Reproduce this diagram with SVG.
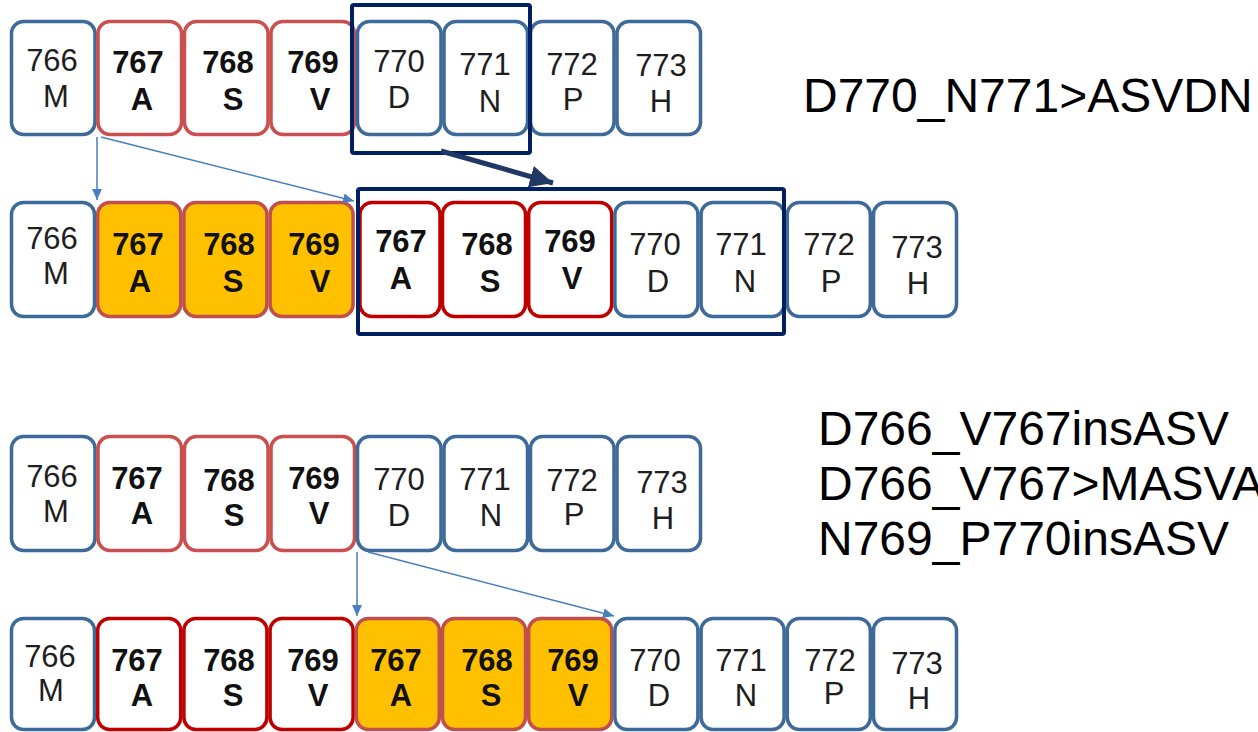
<svg xmlns="http://www.w3.org/2000/svg" width="1258" height="732" viewBox="0 0 1258 732">
<style>
.b{fill:#fff;stroke:#3E6A9A;stroke-width:3.5}
.r{fill:#fff;stroke:#C9504F;stroke-width:3.5}
.d{fill:#fff;stroke:#C00000;stroke-width:3.5}
.o{fill:#FFC000;stroke:#C0504D;stroke-width:3.5}
.t{font-family:"Liberation Sans",Arial,sans-serif;font-size:31px;fill:#1e1e1e;text-anchor:middle}
.tb{font-family:"Liberation Sans",Arial,sans-serif;font-size:31px;font-weight:bold;fill:#111;text-anchor:middle}
.lbl{font-family:"Liberation Sans",Arial,sans-serif;font-size:48px;fill:#000}
.nv{fill:none;stroke:#002060;stroke-width:4}
.ca{fill:none;stroke:#4A7EBF;stroke-width:1.5}
.cn{fill:none;stroke:#203864;stroke-width:5}
</style>
<defs>
<marker id="ab" markerUnits="userSpaceOnUse" markerWidth="12" markerHeight="10" refX="11" refY="5" orient="auto"><path d="M0,0 L11,5 L0,10 z" fill="#4A7EBF"/></marker>
<marker id="an" markerUnits="userSpaceOnUse" markerWidth="24" markerHeight="22" refX="23" refY="11" orient="auto"><path d="M0,0 L23,11 L0,22 z" fill="#203864"/></marker>
</defs>

<!-- Row 1 -->
<g id="r1-766"><rect class="b" x="11.5" y="21.5" width="83.5" height="113" rx="12"/><text class="t" x="52" y="71">766</text><text class="t" x="56" y="107">M</text></g>
<g id="r1-767"><rect class="r" x="98" y="21.5" width="83.5" height="113" rx="12"/><text class="tb" x="138" y="73">767</text><text class="tb" x="142" y="110">A</text></g>
<g id="r1-768"><rect class="r" x="184.5" y="21.5" width="83.5" height="113" rx="12"/><text class="tb" x="228" y="73">768</text><text class="tb" x="233" y="110">S</text></g>
<g id="r1-769"><rect class="r" x="271" y="21.5" width="83.5" height="113" rx="12"/><text class="tb" x="313" y="73">769</text><text class="tb" x="320" y="110">V</text></g>
<g id="r1-770"><rect class="b" x="357.5" y="21.5" width="83.5" height="113" rx="12"/><text class="t" x="399" y="72">770</text><text class="t" x="399" y="108">D</text></g>
<g id="r1-771"><rect class="b" x="444" y="21.5" width="83.5" height="113" rx="12"/><text class="t" x="485" y="75">771</text><text class="t" x="490" y="112">N</text></g>
<g id="r1-772"><rect class="b" x="530.5" y="21.5" width="83.5" height="113" rx="12"/><text class="t" x="572" y="75">772</text><text class="t" x="573" y="110">P</text></g>
<g id="r1-773"><rect class="b" x="617" y="21.5" width="83.5" height="113" rx="12"/><text class="t" x="661" y="76">773</text><text class="t" x="661" y="112">H</text></g>
<g id="r1-frame"><rect class="nv" x="352" y="5" width="178" height="148" rx="2"/></g>

<!-- Row 2 -->
<g id="r2-766"><rect class="b" x="11.5" y="202.5" width="83" height="114" rx="12"/><text class="t" x="52" y="249">766</text><text class="t" x="56" y="284">M</text></g>
<g id="r2-767"><rect class="o" x="97.7" y="202.5" width="83" height="114" rx="12"/><text class="tb" x="138" y="255">767</text><text class="tb" x="140" y="292">A</text></g>
<g id="r2-768"><rect class="o" x="183.9" y="202.5" width="83" height="114" rx="12"/><text class="tb" x="229" y="255">768</text><text class="tb" x="233" y="292">S</text></g>
<g id="r2-769"><rect class="o" x="270.1" y="202.5" width="83" height="114" rx="12"/><text class="tb" x="314" y="255">769</text><text class="tb" x="320" y="292">V</text></g>
<g id="r2-767b"><rect class="d" x="360" y="202.5" width="80" height="114" rx="12"/><text class="tb" x="401" y="252">767</text><text class="tb" x="401" y="289">A</text></g>
<g id="r2-768b"><rect class="d" x="442.5" y="202.5" width="83" height="114" rx="12"/><text class="tb" x="487" y="255">768</text><text class="tb" x="490" y="292">S</text></g>
<g id="r2-769b"><rect class="d" x="528.7" y="202.5" width="83" height="114" rx="12"/><text class="tb" x="570" y="252">769</text><text class="tb" x="572" y="289">V</text></g>
<g id="r2-770"><rect class="b" x="614.9" y="202.5" width="83" height="114" rx="12"/><text class="t" x="655" y="255">770</text><text class="t" x="658" y="292">D</text></g>
<g id="r2-771"><rect class="b" x="701.1" y="202.5" width="83" height="114" rx="12"/><text class="t" x="741" y="255">771</text><text class="t" x="745" y="292">N</text></g>
<g id="r2-772"><rect class="b" x="787.3" y="202.5" width="83" height="114" rx="12"/><text class="t" x="829" y="255">772</text><text class="t" x="831" y="292">P</text></g>
<g id="r2-773"><rect class="b" x="873.5" y="202.5" width="83" height="114" rx="12"/><text class="t" x="917" y="258">773</text><text class="t" x="918" y="294">H</text></g>
<g id="r2-frame"><rect class="nv" x="358" y="189" width="426" height="145" rx="2"/></g>

<!-- Row 3 -->
<g id="r3-766"><rect class="b" x="11.5" y="436.5" width="83.5" height="114" rx="12"/><text class="t" x="52" y="487">766</text><text class="t" x="56" y="522">M</text></g>
<g id="r3-767"><rect class="r" x="98" y="436.5" width="83.5" height="114" rx="12"/><text class="tb" x="137" y="489">767</text><text class="tb" x="142" y="524">A</text></g>
<g id="r3-768"><rect class="r" x="184.5" y="436.5" width="83.5" height="114" rx="12"/><text class="tb" x="229" y="491">768</text><text class="tb" x="234" y="526">S</text></g>
<g id="r3-769"><rect class="r" x="271" y="436.5" width="83.5" height="114" rx="12"/><text class="tb" x="314" y="489">769</text><text class="tb" x="319" y="524">V</text></g>
<g id="r3-770"><rect class="b" x="357.5" y="436.5" width="83.5" height="114" rx="12"/><text class="t" x="399" y="490">770</text><text class="t" x="399" y="526">D</text></g>
<g id="r3-771"><rect class="b" x="444" y="436.5" width="83.5" height="114" rx="12"/><text class="t" x="485" y="490">771</text><text class="t" x="491" y="526">N</text></g>
<g id="r3-772"><rect class="b" x="530.5" y="436.5" width="83.5" height="114" rx="12"/><text class="t" x="572" y="491">772</text><text class="t" x="574" y="525">P</text></g>
<g id="r3-773"><rect class="b" x="617" y="436.5" width="83.5" height="114" rx="12"/><text class="t" x="662" y="493">773</text><text class="t" x="663" y="529">H</text></g>

<!-- Row 4 -->
<g id="r4-766"><rect class="b" x="11.5" y="618.5" width="83" height="111" rx="12"/><text class="t" x="50" y="667">766</text><text class="t" x="51" y="701">M</text></g>
<g id="r4-767"><rect class="d" x="97.7" y="618.5" width="83" height="111" rx="12"/><text class="tb" x="137" y="671">767</text><text class="tb" x="142" y="706">A</text></g>
<g id="r4-768"><rect class="d" x="183.9" y="618.5" width="83" height="111" rx="12"/><text class="tb" x="229" y="671">768</text><text class="tb" x="233" y="706">S</text></g>
<g id="r4-769"><rect class="d" x="270.1" y="618.5" width="83" height="111" rx="12"/><text class="tb" x="313" y="671">769</text><text class="tb" x="318" y="706">V</text></g>
<g id="r4-767b"><rect class="o" x="356.3" y="618.5" width="83" height="111" rx="12"/><text class="tb" x="396" y="671">767</text><text class="tb" x="401" y="706">A</text></g>
<g id="r4-768b"><rect class="o" x="442.5" y="618.5" width="83" height="111" rx="12"/><text class="tb" x="487" y="671">768</text><text class="tb" x="491" y="706">S</text></g>
<g id="r4-769b"><rect class="o" x="528.7" y="618.5" width="83" height="111" rx="12"/><text class="tb" x="573" y="671">769</text><text class="tb" x="578" y="706">V</text></g>
<g id="r4-770"><rect class="b" x="614.9" y="618.5" width="83" height="111" rx="12"/><text class="t" x="655" y="671">770</text><text class="t" x="659" y="706">D</text></g>
<g id="r4-771"><rect class="b" x="701.1" y="618.5" width="83" height="111" rx="12"/><text class="t" x="741" y="671">771</text><text class="t" x="746" y="706">N</text></g>
<g id="r4-772"><rect class="b" x="787.3" y="618.5" width="83" height="111" rx="12"/><text class="t" x="830" y="671">772</text><text class="t" x="834" y="704">P</text></g>
<g id="r4-773"><rect class="b" x="873.5" y="618.5" width="83" height="111" rx="12"/><text class="t" x="917" y="674">773</text><text class="t" x="919" y="709">H</text></g>

<!-- Connectors -->
<g id="connectors">
<line class="ca" x1="97" y1="137" x2="97" y2="200" marker-end="url(#ab)"/>
<line class="ca" x1="101" y1="137" x2="354" y2="201" marker-end="url(#ab)"/>
<line class="cn" x1="441" y1="151" x2="553" y2="183" marker-end="url(#an)"/>
<line class="ca" x1="357" y1="552" x2="357" y2="616" marker-end="url(#ab)"/>
<line class="ca" x1="368" y1="552" x2="614" y2="616" marker-end="url(#ab)"/>
</g>

<!-- Labels -->
<g id="labels">
<text class="lbl" x="803" y="112">D770_N771&gt;ASVDN</text>
<text class="lbl" x="818" y="445">D766_V767insASV</text>
<text class="lbl" x="818" y="500">D766_V767&gt;MASVA</text>
<text class="lbl" x="818" y="555">N769_P770insASV</text>
</g>
</svg>
